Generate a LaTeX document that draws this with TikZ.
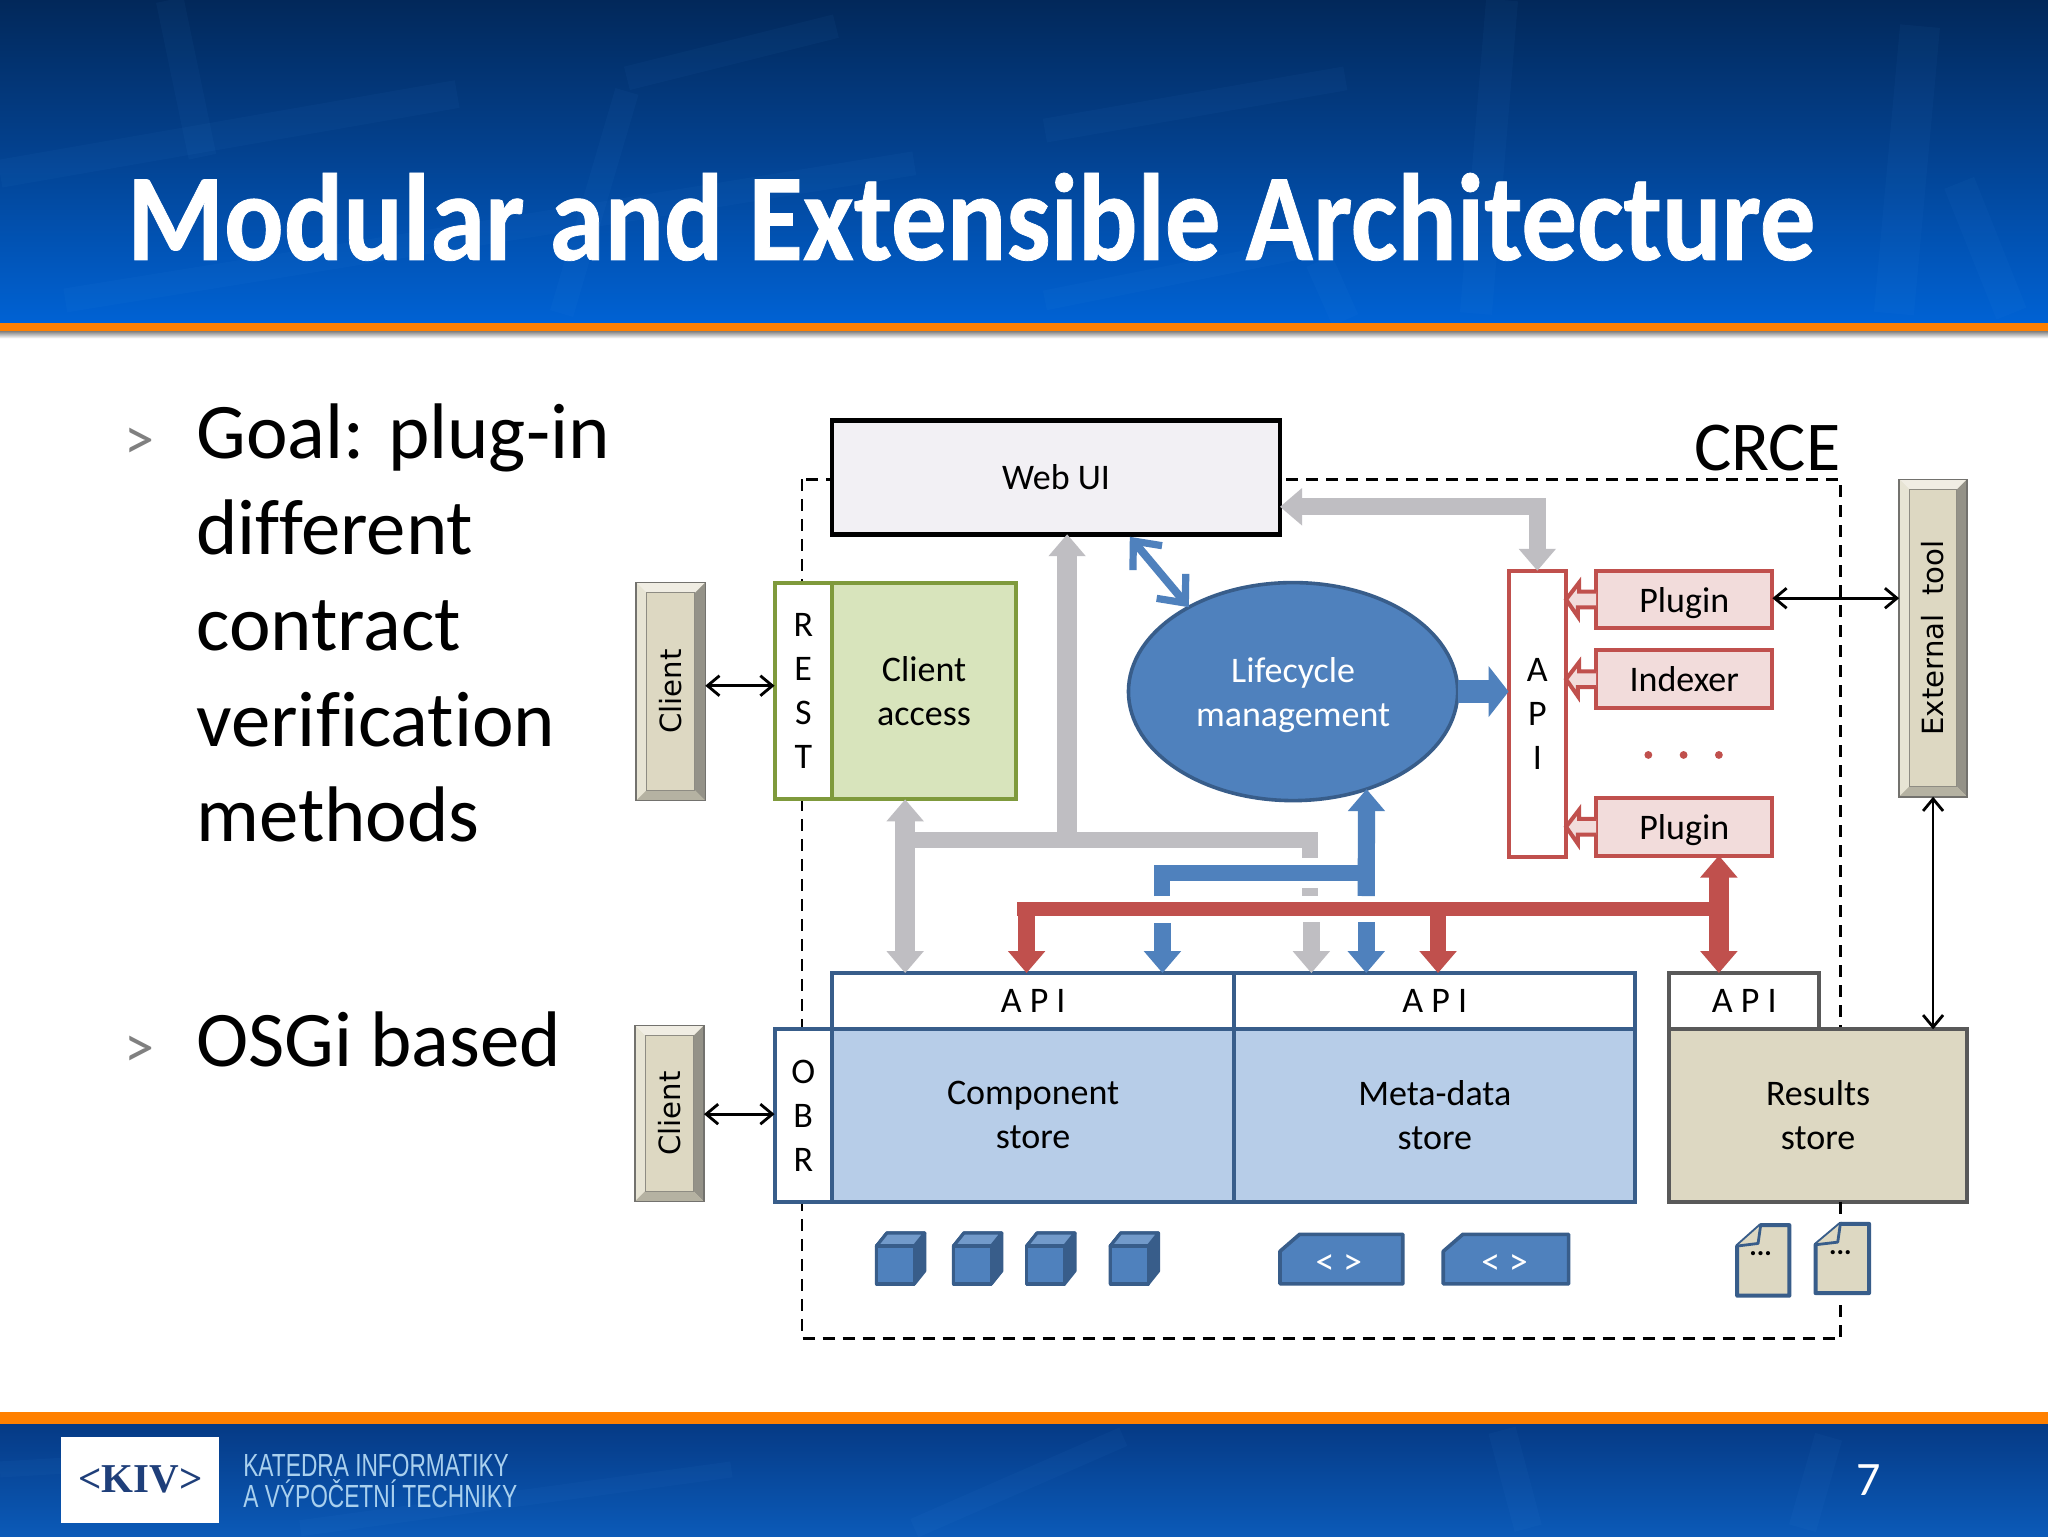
\documentclass[tikz,border=0pt]{standalone}
\usepackage{fontspec}
\setmainfont[Ligatures=NoCommon]{Carlito}
\newfontfamily\titlefont[FakeStretch=0.895,FakeBold=0.6]{Carlito}
\newfontfamily\dejafont{DejaVu Sans}
\newfontfamily\narfont[FakeStretch=0.71]{Liberation Sans}
\newfontfamily\kivfont{Liberation Serif}
\usetikzlibrary{arrows.meta,shapes.geometric,calc}
\definecolor{navytop}{HTML}{02285A}
\definecolor{navymid}{HTML}{03408C}
\definecolor{navybot}{HTML}{0062D4}
\definecolor{footA}{HTML}{053A85}
\definecolor{footB}{HTML}{0B5AB8}
\definecolor{orangebar}{HTML}{FF8000}
\definecolor{streak}{HTML}{55A5F5}
\definecolor{webfill}{HTML}{F2F0F4}
\definecolor{olive}{HTML}{7F9A3C}
\definecolor{greenfill}{HTML}{D8E4BC}
\definecolor{blueedge}{HTML}{385D8A}
\definecolor{bluefill}{HTML}{4F81BD}
\definecolor{storefill}{HTML}{B7CDE8}
\definecolor{tanfill}{HTML}{DDD8C2}
\definecolor{grayedge}{HTML}{595959}
\definecolor{redc}{HTML}{C0504D}
\definecolor{pinkfill}{HTML}{F2DCDB}
\definecolor{grayarrow}{HTML}{BFBEC2}
\definecolor{footertext}{HTML}{A9D0EE}
\definecolor{kivblue}{HTML}{1F3F7A}
\tikzset{
  boxbase/.style={draw,inner sep=0pt,outer sep=0pt,align=center,font=\fontsize{18}{22}\selectfont},
  webbox/.style={boxbase,fill=webfill,line width=2.4pt},
  oliveempty/.style={boxbase,fill=white,draw=olive,line width=2pt},
  olivebox/.style={boxbase,fill=greenfill,draw=olive,line width=2pt},
  bluecell/.style={boxbase,fill=white,draw=blueedge,line width=2pt},
  storebox/.style={boxbase,fill=storefill,draw=blueedge,line width=2pt},
  grayapi/.style={boxbase,fill=white,draw=grayedge,line width=2pt},
  tanbox/.style={boxbase,fill=tanfill,draw=grayedge,line width=2pt},
  redcell/.style={boxbase,fill=white,draw=redc,line width=2pt},
  pinkbox/.style={boxbase,fill=pinkfill,draw=redc,line width=2pt},
  lifebox/.style={ellipse,draw=blueedge,fill=bluefill,line width=1.8pt,inner sep=0pt,outer sep=0pt,
     text=white,align=center,text depth=0pt,font=\fontsize{18}{22}\selectfont},
  bevelbox/.style={draw=grayedge!80!tanfill,inner sep=0pt,outer sep=0pt,line width=.8pt},
  beveltext/.style={rotate=90,inner sep=0pt,font=\dejafont\fontsize{14.6}{18}\selectfont},
  crce/.style={draw=black,line width=1.35pt,dash pattern=on 6pt off 4pt},
  blk/.style={draw=black,line width=1.4pt,{Straight Barb[length=6pt,width=10pt]}-{Straight Barb[length=6pt,width=10pt]}},
  graythick/.style={draw=grayarrow,line width=8.6pt},
  bluethick/.style={draw=bluefill,line width=8.6pt},
  redthick/.style={draw=redc,line width=8.2pt},
  tipg/.tip={Triangle[length=11pt,width=18pt]},
  pluga/.style={draw=redc,fill=pinkfill,line width=2pt,line join=miter},
  cube/.style={draw=blueedge,fill=bluefill,line width=1.6pt,line join=round},
  docshape/.style={draw=blueedge,fill=tanfill,line width=2pt,line join=round},
  xmlshape/.style={draw=blueedge,fill=bluefill,line width=1.8pt,line join=round},
  icontext/.style={inner sep=0pt,font=\fontsize{19}{20}\selectfont},
  streakline/.style={draw=streak,opacity=.045,line cap=butt},
}
\newcommand\rbox[7]{%
  \pgfmathsetmacro\rbcx{(#3+#5)/2}\pgfmathsetmacro\rbcy{(#4+#6)/2}%
  \pgfmathsetmacro\rbw{(#5-#3)*0.65306}\pgfmathsetmacro\rbh{(#6-#4)*0.65306}%
  \node[#1,minimum width=\rbw pt,minimum height=\rbh pt] (#2) at (\rbcx,\rbcy) {#7};}
\newcommand\bevelled[7]{% name x1 y1 x2 y2 bevel text
  \fill[tanfill] (#2,#3) rectangle (#4,#5);
  \fill[tanfill!45!white] (#2,#3) -- (#4,#3) -- ({#4-#6},{#3+#6}) -- ({#2+#6},{#3+#6}) -- cycle;
  \fill[tanfill!70!white] (#2,#3) -- (#2,#5) -- ({#2+#6},{#5-#6}) -- ({#2+#6},{#3+#6}) -- cycle;
  \fill[grayedge!55!tanfill] (#4,#3) -- (#4,#5) -- ({#4-#6},{#5-#6}) -- ({#4-#6},{#3+#6}) -- cycle;
  \fill[grayedge!30!tanfill] (#2,#5) -- (#4,#5) -- ({#4-#6},{#5-#6}) -- ({#2+#6},{#5-#6}) -- cycle;
  \draw[grayedge!60!tanfill,line width=.5pt] ({#2+#6},{#3+#6}) rectangle ({#4-#6},{#5-#6});
  \rbox{bevelbox}{#1}{#2}{#3}{#4}{#5}{}
  \node[beveltext] (#1-label) at (#1) {#7};}
\newcommand\cubeicon[1]{%
  \draw[cube,fill=blueedge] (#1,983) -- (#1,954) -- ({#1+8},944) -- ({#1+37},944) -- ({#1+37},973) -- ({#1+29},983) -- cycle;
  \draw[cube,fill=bluefill!80!white] (#1,954) -- ({#1+8},944) -- ({#1+37},944) -- ({#1+29},954) -- cycle;
  \draw[cube] (#1,954) rectangle ({#1+29},983);}
\begin{document}
\begin{tikzpicture}[x=0.65306pt,y=-0.65306pt]
\useasboundingbox (0,0) rectangle (1568,1176);
\fill[white] (0,0) rectangle (1568,1176);
% header band
\shade[top color=navytop,bottom color=navymid] (0,0) rectangle (1568,110);
\shade[top color=navymid,bottom color=navybot] (0,110) rectangle (1568,247);
\foreach \xa/\ya/\xb/\yb/\w in {130/0/155/120/14,480/70/430/240/12,640/20/480/60/12,0/133/350/72/14,50/230/700/125/12,
   800/100/1030/60/12,1150/0/1130/240/16,1010/200/1030/245/14,1470/20/1450/240/20,800/230/1000/190/10,1500/140/1540/240/16}
  \draw[streakline,line width=\w pt] (\xa,\ya) -- (\xb,\yb);
\fill[orangebar] (0,247) rectangle (1568,254);
\shade[top color=black!45,bottom color=white] (0,254) rectangle (1568,259);
% footer band
\shade[top color=footA,bottom color=footB] (0,1090) rectangle (1568,1176);
\foreach \xa/\ya/\xb/\yb/\w in {0/1125/120/1118/8,230/1170/560/1125/8,700/1170/860/1100/10,1150/1095/1170/1170/14,1400/1100/1380/1170/14}
  \draw[streakline,line width=\w pt] (\xa,\ya) -- (\xb,\yb);
\fill[orangebar] (0,1081) rectangle (1568,1090);
% title
\node[anchor=base west,inner sep=0pt,text=white,font=\titlefont\bfseries\fontsize{62}{70}\selectfont] (title) at (97,199) {Modular and Extensible Architecture};
% bullets
\node[inner sep=0pt,text=black!50,font=\fontsize{30}{30}\selectfont] (b1) at (107,340) {>};
\node[anchor=north west,inner sep=0pt,align=left,font=\fontsize{39.4}{47.9}\selectfont] (goal) at (150,309)
  {Goal: plug-in\\different\\contract\\verification\\methods};
\node[inner sep=0pt,text=black!50,font=\fontsize{30}{30}\selectfont] (b2) at (107,805) {>};
\node[anchor=north west,inner sep=0pt,font=\fontsize{39.4}{47.9}\selectfont] (osgi) at (150,774) {OSGi based};
% CRCE frame
\draw[crce] (614,367) rectangle (1409,1025);
\node[inner sep=0pt,font=\fontsize{35}{40}\selectfont] (crcelabel) at (1353,343) {CRCE};
% boxes
\rbox{webbox}{webui}{637}{322}{980}{409}{Web UI}
\bevelled{client1}{487}{446}{540}{613}{8}{Client}
\bevelled{client2}{486}{785}{539}{920}{8}{Client}
\bevelled{extool}{1454}{367}{1506}{610}{8}{External~~tool}
\rbox{oliveempty}{rest}{593}{446}{637}{612}{R\\E\\S\\T}
\rbox{olivebox}{access}{637}{446}{778}{612}{Client\\access}
\rbox{bluecell}{obr}{593}{788}{637}{920}{O\\B\\R}
\rbox{bluecell}{api1}{637}{745}{945}{788}{A P I}
\rbox{bluecell}{api2}{945}{745}{1252}{788}{A P I}
\rbox{storebox}{comp}{637}{788}{945}{920}{Component\\store}
\rbox{storebox}{meta}{945}{788}{1252}{920}{Meta-data\\store}
\rbox{grayapi}{api3}{1278}{745}{1393}{788}{A P I}
\rbox{tanbox}{results}{1278}{788}{1506}{920}{Results\\store}
\rbox{redcell}{rapi}{1155}{437}{1199}{656}{A\\P\\I}
\rbox{pinkbox,text depth=0pt}{plug1}{1222}{437}{1357}{481}{Plugin}
\rbox{pinkbox}{idx}{1222}{498}{1357}{542}{Indexer}
\rbox{pinkbox,text depth=0pt}{plug2}{1222}{611}{1357}{655}{Plugin}
\node[lifebox,minimum width=164.6pt,minimum height=109pt] (life) at (990,529.5) {Lifecycle\\management};
\foreach \dx in {1262,1289,1316} \fill[redc] (\dx,578) circle (3);
% plugin arrows
\foreach \p in {plug1,idx,plug2}
  \draw[pluga] (\p.west) ++(0,-6) -- ++(-13,0) -- ++(0,-7) -- (rapi.east |- \p.west) -- ++(9,13) -- ++(0,-7) -- ++(14,0);
% black connectors
\coordinate (cy1) at (0,525);
\coordinate (cy2) at (0,853);
\coordinate (cy3) at (0,458);
\draw[blk] (client1.east |- cy1) -- (rest.west |- cy1);
\draw[blk] (client2.east |- cy2) -- (obr.west |- cy2);
\draw[blk] (plug1.east |- cy3) -- (extool.west |- cy3);
\coordinate (cx4) at (1480,0);
\draw[blk] (extool.south -| cx4) -- (results.north -| cx4);
% gray connectors
\coordinate (gtop) at (0,388);
\draw[graythick,tipg-tipg] (webui.east |- gtop) -- (rapi.north |- gtop) -- (rapi.north);
\coordinate (gbar) at (0,643);
\coordinate (gx1) at (817,0);
\coordinate (gx2) at (693,0);
\coordinate (gx3) at (1003,0);
\draw[graythick,-tipg,line width=10pt] (gx1 |- gbar) -- (webui.south -| gx1);
\draw[graythick,tipg-tipg,line width=10pt] (access.south -| gx2) -- (api1.north -| gx2);
\draw[graythick,line width=8pt] (gx2 |- gbar) -- (gx3 |- gbar) ++(0,-6) -- ++(0,20);
\coordinate (gd1) at (1003,680);
\coordinate (gd2) at (1003,686);
\draw[graythick,line width=8pt] (gd1) -- (gd2);
\coordinate (gd3) at (1004,706);
\draw[graythick,-tipg] (gd3) -- (gd3 |- api1.north);
% blue connectors
\coordinate (bx1) at (1046,686);
\coordinate (bx2) at (890,686);
\coordinate (bbar) at (0,668);
\draw[bluethick,-tipg] (bx1) -- (life.-53.6);
\draw[bluethick,line width=8pt] (bx2) -- (bx2 |- bbar) -- (bx1 |- bbar);
\coordinate (bl1) at (890,707);
\coordinate (bl2) at (1046,706);
\draw[bluethick,-tipg] (bl1) -- (bl1 |- api1.north);
\draw[bluethick,-tipg] (bl2) -- (bl2 |- api2.north);
\draw[draw=bluefill,line width=4pt,{Straight Barb[length=11pt,width=19pt,line width=3.6pt]}-{Straight Barb[length=11pt,width=19pt,line width=3.6pt]}] (life.141) -- (865,411);
\draw[draw=bluefill,line width=11.5pt,-{Triangle[length=10pt,width=25pt]}] (life.east) -- (rapi.west |- life.east);
% red connectors
\coordinate (rbar) at (0,696);
\coordinate (rx1) at (786,0);
\coordinate (rx2) at (1101,0);
\coordinate (rx3) at (1316,0);
\draw[redthick,line width=7pt] (779,696) -- (1320,696);
\draw[redthick,-tipg] (rx1 |- rbar) -- (api1.north -| rx1);
\draw[redthick,-tipg] (rx2 |- rbar) -- (api2.north -| rx2);
\draw[redthick,tipg-tipg,line width=10pt] (plug2.south -| rx3) -- (api3.north -| rx3);
% icons
\cubeicon{671}
\cubeicon{730}
\cubeicon{786}
\cubeicon{850}
\draw[xmlshape] (995,945) -- (1074,945) -- (1074,983) -- (980,983) -- (980,958) -- cycle;
\node[icontext,text=white] (xml1) at (1025,968) {< >};
\draw[xmlshape] (1120,945) -- (1201,945) -- (1201,983) -- (1105,983) -- (1105,958) -- cycle;
\node[icontext,text=white] (xml2) at (1152,968) {< >};
\fill[white] (1385,926) rectangle (1436,998);
\draw[crce] (1409,920) -- (1409,936);
\draw[docshape] (1348,938) -- (1370,938) -- (1370,992) -- (1330,992) -- (1330,954) -- cycle;
\draw[docshape,line width=1.4pt] (1330,954) -- (1346,952) -- (1348,938);
\node[icontext,font=\bfseries\fontsize{14}{14}\selectfont] (doc1) at (1348,960) {...};
\draw[docshape] (1409,937) -- (1431,937) -- (1431,990) -- (1390,990) -- (1390,953) -- cycle;
\draw[docshape,line width=1.4pt] (1390,953) -- (1407,951) -- (1409,937);
\node[icontext,font=\bfseries\fontsize{14}{14}\selectfont] (doc2) at (1409,959) {...};
% footer
\node[fill=white,inner sep=0pt,minimum width=79pt,minimum height=43pt,text=kivblue,font=\kivfont\bfseries\fontsize{20.5}{24}\selectfont] (kiv) at (107.5,1133) {<KIV>};
\node[anchor=west,inner sep=0pt,text=footertext,align=left,font=\narfont\fontsize{16}{15.6}\selectfont] (dept) at (186,1134) {KATEDRA INFORMATIKY\\A VÝPOČETNÍ TECHNIKY};
\node[inner sep=0pt,text=white,font=\fontsize{24}{24}\selectfont] (pageno) at (1431,1133) {7};
\end{tikzpicture}
\end{document}
